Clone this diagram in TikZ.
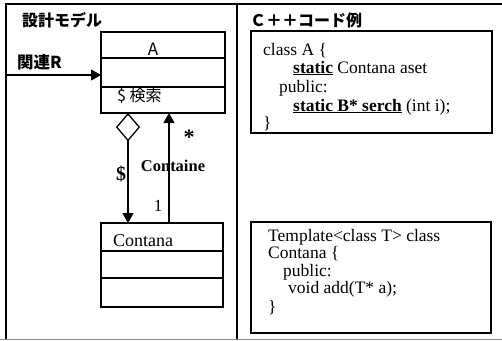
\documentclass[tikz,border=0pt]{standalone}
\usepackage{fontspec}
\setmainfont{Liberation Serif}
\newfontfamily\jp{Noto Sans CJK JP}
\usepackage{tikz}
\usetikzlibrary{arrows.meta,shapes.geometric,positioning}

\tikzset{
  cbox/.style={draw, line width=1.3pt, minimum width=124pt, inner sep=0pt, outer sep=0pt},
  arr/.style={line width=1.2pt, -{Triangle[length=10pt,width=11pt]}},
  codebox/.style={draw, line width=1.5pt, inner sep=0pt, outer sep=0pt},
  code/.style={anchor=base west, inner sep=0pt, font=\fontsize{17.5}{18}\selectfont},
  head/.style={anchor=west, inner sep=0pt, font=\jp\bfseries\fontsize{16}{16}\selectfont}
}

\begin{document}
\begin{tikzpicture}[x=1pt,y=-1pt]
            \useasboundingbox (0,0) rectangle (502,340);
            % marco
            \draw[line width=1.2pt] (6,339) -- (6,4) -- (502,4);
            \draw[line width=1.8pt] (237,4) -- (237,339);
            \draw[line width=1pt, black!45] (0,339) -- (502,339);

            \node[head] (tmodel) at (22,20) {設計モデル};
            \node[head] (tcode) at (250,20) {Ｃ＋＋コード例};

            % clase A
            \node[cbox, minimum height=26pt] (a1) at (163,45) {};
            \node[cbox, minimum height=29pt, below=0pt of a1] (a2) {};
            \node[cbox, minimum height=26pt, below=0pt of a2] (a3) {};
            \node[font=\jp\fontsize{17}{17}\selectfont, inner sep=0pt] (aname) at (153,49) {A};
            \node[anchor=west, font=\jp\fontsize{16}{16}\selectfont, inner sep=0pt] (aop) at (117,96) {\$ 検索};

            % clase Contana
            \node[cbox, minimum width=122pt, minimum height=28pt] (c1) at (162,237) {};
            \node[cbox, minimum width=122pt, minimum height=27pt, below=0pt of c1] (c2) {};
            \node[cbox, minimum width=122pt, minimum height=29pt, below=0pt of c2] (c3) {};
            \node[anchor=base west, inner sep=0pt, font=\fontsize{18}{18}\selectfont] (cname) at (113,246) {Contana};

            % asociaciones
            \coordinate (rin) at (6,75);
            \draw[arr] (rin) -- (rin -| a2.west);
            \node[anchor=west, inner sep=0pt, font=\jp\bfseries\fontsize{16.5}{17}\selectfont] (rel) at (17,62) {関連R};

            \node[draw, fill=white, diamond, line width=1.3pt, minimum width=23pt, minimum height=27pt, inner sep=0pt, anchor=north] (dia) at (a3.south -| 128,0) {};
            \draw[arr] (dia.south) -- (c1.north -| dia.south);
            \draw[arr] (c1.north -| 169,0) -- (a3.south -| 169,0);

            \node[font=\bfseries\fontsize{20}{20}\selectfont] (dol) at (121,174) {\$};
            \node[font=\bfseries\fontsize{22}{22}\selectfont] (star) at (189,137) {*};
            \node[font=\bfseries\fontsize{16.5}{17}\selectfont] (cont) at (173,166) {Containe};
            \node[font=\fontsize{17}{17}\selectfont] (one) at (158,206) {1};

            % codigo C++
            \node[codebox, minimum width=241pt, minimum height=102pt] (code1) at (371.5,82) {};
            \foreach \y/\x/\txt in {55/263/{class A \{},
                                    73/293/{\underline{\textbf{static}} Contana aset},
                                    92/279/{public:},
                                    111/293/{\underline{\textbf{static B* serch}} (int i);},
                                    128/263/{\}}} {
                \node[code] at (\x,\y) {\txt};
            }

            \node[codebox, minimum width=240pt, minimum height=111pt] (code2) at (371,277.5) {};
            \foreach \y/\x/\txt in {241/268/{Template<class T> class},
                                    258/268/{Contana \{},
                                    276/283/{public:},
                                    293/288/{void add(T* a);},
                                    312/268/{\}}} {
                \node[code] at (\x,\y) {\txt};
            }
\end{tikzpicture}
\end{document}
